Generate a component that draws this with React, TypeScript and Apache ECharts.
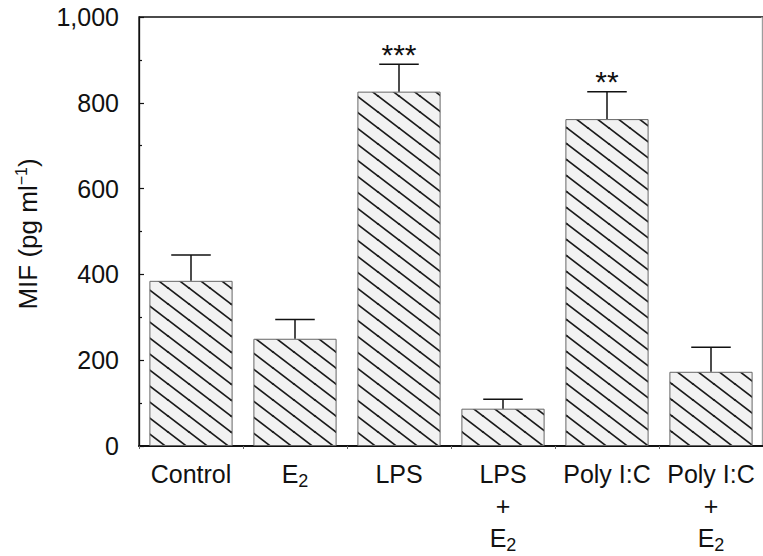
import React, { useEffect, useRef } from "react";
import * as echarts from "echarts";

const categories = ["Control", "E2", "LPS", "LPS + E2", "Poly I:C", "Poly I:C + E2"];
const tickLabels = ["Control", "E{sub|2}", "LPS", "LPS\n+\nE{sub|2}", "Poly I:C", "Poly I:C\n+\nE{sub|2}"];
const means = [385, 250, 826, 87, 762, 173];
const sems = [60, 45, 64, 22, 64, 57];
const stars = ["", "", "***", "", "**", ""];
const yTicks = [0, 200, 400, 600, 800, 1000];

const FONT = "'Liberation Sans', Arial, Helvetica, sans-serif";

function makeHatch(): HTMLCanvasElement {
  const w = 21;
  const h = 16;
  const c = document.createElement("canvas");
  c.width = w;
  c.height = h;
  const ctx = c.getContext("2d")!;
  ctx.fillStyle = "#f2f2f2";
  ctx.fillRect(0, 0, w, h);
  ctx.strokeStyle = "#1a1a1a";
  ctx.lineWidth = 1.7;
  const shifts = [
    [0, 0],
    [w, 0],
    [-w, 0],
    [0, h],
    [0, -h],
  ];
  for (const [dx, dy] of shifts) {
    ctx.beginPath();
    ctx.moveTo(dx - 2, dy - (2 * h) / w);
    ctx.lineTo(dx + w + 2, dy + h + (2 * h) / w);
    ctx.stroke();
  }
  return c;
}

export default function App() {
  const ref = useRef<HTMLDivElement>(null);
  useEffect(() => {
    if (!ref.current) return;
    const chart = echarts.init(ref.current, undefined, { renderer: "svg" });
    const hatch = makeHatch();
    chart.setOption({
      animation: false,
      backgroundColor: "#ffffff",
      grid: {
        left: 139,
        top: 17,
        width: 626,
        height: 429,
        show: true,
        borderColor: "#111",
        borderWidth: 1.3,
        backgroundColor: "transparent",
      },
      graphic: [
        {
          type: "line",
          shape: { x1: 762, y1: 17, x2: 762, y2: 446 },
          style: { stroke: "#d8d8d8", lineWidth: 1 },
          silent: true,
        },
      ],
      xAxis: {
        type: "category",
        data: categories,
        axisLine: { show: true, lineStyle: { color: "#111", width: 2 } },
        axisTick: { show: true, length: 3, lineStyle: { color: "#666", width: 1 } },
        axisLabel: {
          interval: 0,
          margin: 12,
          color: "#111",
          fontFamily: FONT,
          fontSize: 25,
          lineHeight: 32,
          formatter: (_v: string, i: number) => tickLabels[i],
          rich: {
            sub: { fontSize: 18, lineHeight: 16, verticalAlign: "bottom", fontFamily: FONT, color: "#111" },
          },
        },
        splitLine: { show: false },
      },
      yAxis: {
        type: "value",
        min: 0,
        max: 1000,
        interval: 200,
        name: "MIF (pg ml{sup|\u22121})",
        nameLocation: "middle",
        nameGap: 96,
        nameRotate: 90,
        nameTextStyle: {
          fontFamily: FONT,
          fontSize: 26,
          lineHeight: 30,
          color: "#111",
          padding: [0, 5, 0, 0],
          rich: {
            sup: { fontSize: 16, lineHeight: 20, verticalAlign: "top", fontFamily: FONT, color: "#111" },
          },
        },
        axisLine: { show: true, lineStyle: { color: "#111", width: 1.3 } },
        axisTick: { show: true, inside: true, length: 5, lineStyle: { color: "#111", width: 1.2 } },
        minorTick: { show: true, splitNumber: 2, length: 3, lineStyle: { color: "#111", width: 1.2 } },
        axisLabel: {
          margin: 20,
          color: "#111",
          fontFamily: FONT,
          fontSize: 25,
          formatter: (v: number) => (yTicks.includes(v) ? v.toLocaleString("en-US") : ""),
        },
        splitLine: { show: false },
      },
      series: [
        {
          type: "bar",
          data: means,
          barWidth: "80%",
          itemStyle: {
            color: { image: hatch, repeat: "repeat" },
            borderColor: "#666",
            borderWidth: 1,
          },
          z: 2,
        },
        {
          type: "custom",
          z: 3,
          data: means.map((m, i) => [i, m, sems[i]]),
          encode: { x: 0, y: 1 },
          renderItem: (params: any, api: any) => {
            const i = api.value(0);
            const m = api.value(1);
            const e = api.value(2);
            const base = api.coord([i, m]);
            const top = api.coord([i, m + e]);
            const half = api.size([1, 0])[0] * 0.19;
            const s = stars[params.dataIndex];
            const children: any[] = [
              {
                type: "line",
                shape: { x1: base[0], y1: base[1], x2: top[0], y2: top[1] },
                style: { stroke: "#111", lineWidth: 1.5 },
              },
              {
                type: "line",
                shape: { x1: top[0] - half, y1: top[1], x2: top[0] + half, y2: top[1] },
                style: { stroke: "#111", lineWidth: 1.5 },
              },
            ];
            if (s) {
              children.push({
                type: "text",
                style: {
                  text: s,
                  x: top[0],
                  y: top[1] + 5,
                  align: "center",
                  verticalAlign: "bottom",
                  fontFamily: FONT,
                  fontSize: 30,
                  fill: "#111",
                },
              });
            }
            return { type: "group", children };
          },
        },
      ],
    });
    return () => chart.dispose();
  }, []);
  return (
    <div
      ref={ref}
      style={{ position: "fixed", left: 0, top: 0, width: 763, height: 556, background: "#fff" }}
    />
  );
}
